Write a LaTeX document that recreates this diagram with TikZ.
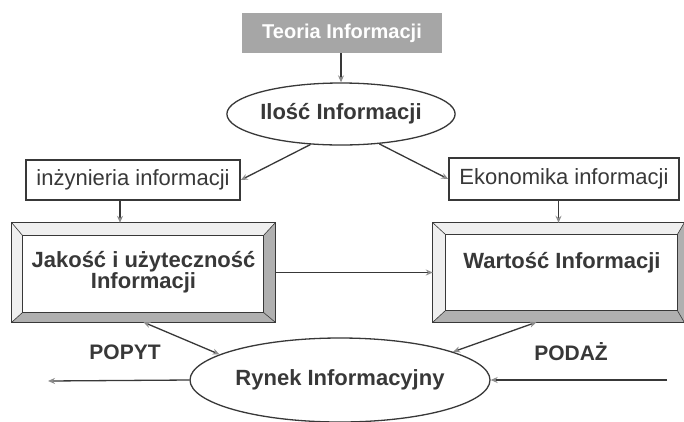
\documentclass[tikz,border=0pt]{standalone}
\usepackage{fontspec}
\setmainfont{Liberation Sans}
\usetikzlibrary{shapes.geometric,arrows.meta,calc}
\definecolor{ink}{HTML}{383838}
\definecolor{tip}{HTML}{8C8C8C}
\definecolor{teogray}{HTML}{A6A6A6}
\definecolor{bevlight}{HTML}{EFEFEF}
\definecolor{bevdark}{HTML}{B0B0B0}
\newcommand{\bevelframe}[5]{%
  \coordinate (#1-a) at ($(#1.north west)+(#2,#3)$);
  \coordinate (#1-b) at ($(#1.north east)+(-#4,#3)$);
  \coordinate (#1-c) at ($(#1.south east)+(-#4,-#5)$);
  \coordinate (#1-d) at ($(#1.south west)+(#2,-#5)$);
  \fill[bevlight] (#1.north west) -- (#1.north east) -- (#1-b) -- (#1-a) -- cycle;
  \fill[bevlight] (#1.north west) -- (#1-a) -- (#1-d) -- (#1.south west) -- cycle;
  \fill[bevdark] (#1.north east) -- (#1.south east) -- (#1-c) -- (#1-b) -- cycle;
  \fill[bevdark] (#1.south west) -- (#1-d) -- (#1-c) -- (#1.south east) -- cycle;
  \draw[ink, line width=0.6pt] (#1.north west) -- (#1-a) (#1.north east) -- (#1-b)
    (#1.south east) -- (#1-c) (#1.south west) -- (#1-d);
  \draw[framebox] (#1-a) rectangle (#1-c);
  \draw[framebox] (#1.north west) rectangle (#1.south east);
}
\begin{document}
\begin{tikzpicture}[x=1pt,y=-1pt,
  every node/.style={font=\fontsize{22}{21}\selectfont, text=ink},
  bt/.style={font=\fontsize{22}{21}\selectfont\bfseries},
  plainbox/.style={draw=ink, line width=1.6pt, rectangle, inner sep=0pt},
  oval/.style={draw=ink, line width=1.3pt, ellipse, inner sep=0pt},
  framebox/.style={draw=ink, line width=1.1pt},
  conn/.style={draw=ink, line width=1.3pt},
  arr/.style={conn, -{Stealth[length=7pt,width=6pt,color=tip]}},
  darr/.style={conn, {Stealth[length=7pt,width=6pt,color=tip]}-{Stealth[length=7pt,width=6pt,color=tip]}},
]
\fill[white] (0,0) rectangle (684,421);
\useasboundingbox (0,0) rectangle (684,421);

\node[fill=teogray, minimum width=200pt, minimum height=40pt, inner sep=0pt, text=white, font=\fontsize{20}{22}\selectfont\bfseries] (teoria) at (342,33) {Teoria Informacji};
\node[oval, minimum width=182pt, minimum height=62pt, bt] (ilosc) at (341,114) {Ilość Informacji};
\node[plainbox, minimum width=214pt, minimum height=40pt] (inz) at (133,180) {inżynieria informacji};
\node[plainbox, minimum width=230pt, minimum height=42pt] (eko) at (564,179) {Ekonomika informacji};
\node[rectangle, inner sep=0pt, minimum width=263pt, minimum height=99pt, bt, align=center] (jak) at (143.5,272.5) {Jakość i użyteczność\\Informacji};
\node[rectangle, inner sep=0pt, minimum width=251pt, minimum height=99pt] (war) at (558.5,272.5) {};
\bevelframe{jak}{11}{13}{12}{10}
\bevelframe{war}{13}{12}{7}{12}
\node[bt] (wartxt) at (562,263) {Wartość Informacji};
\node[oval, minimum width=300pt, minimum height=84pt, bt] (rynek) at (340,380) {Rynek Informacyjny};
\node[bt, font=\fontsize{21}{21}\selectfont\bfseries] (popyt) at (125,352) {POPYT};
\node[bt, font=\fontsize{21}{21}\selectfont\bfseries] (podaz) at (571,352) {PODAŻ};

\coordinate (leftend) at (48,381);
\coordinate (rightend) at (667,380);

\draw[arr] (teoria.south -| ilosc.north) -- (ilosc.north);
\draw[arr] (ilosc.225) -- (inz.east);
\draw[arr] (ilosc.322) -- (eko.west);
\draw[arr] ([xshift=-13pt]inz.south) -- ([xshift=-13pt]inz.south |- jak.north);
\draw[arr] (eko.south -| war.north) -- (war.north);
\draw[arr] (jak.east) -- (war.west);
\draw[darr] (jak.south) -- (rynek.168);
\draw[darr] ([xshift=-22pt]war.south) -- (rynek.14);
\draw[arr] (rynek.west) -- (leftend);
\draw[arr] (rightend) -- (rynek.east);
\end{tikzpicture}
\end{document}
